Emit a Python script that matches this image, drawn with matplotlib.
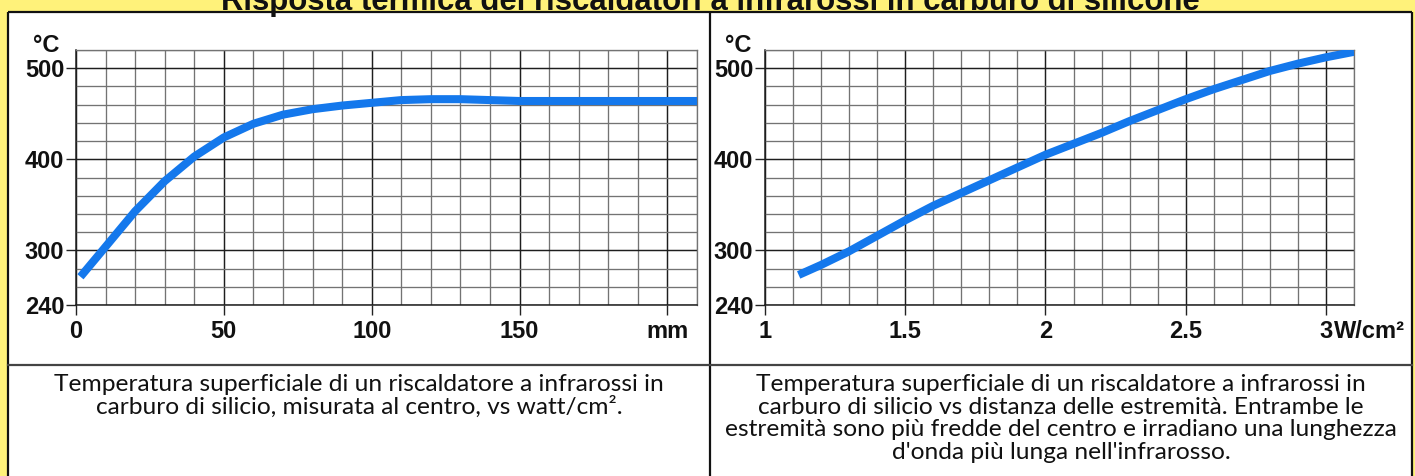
import matplotlib
matplotlib.use("Agg")
import matplotlib.pyplot as plt
from matplotlib.patches import Rectangle
from matplotlib.lines import Line2D

# ---- data -------------------------------------------------------------
title = "Risposta termica dei riscaldatori a infrarossi in carburo di silicone"

# left chart: temperature vs distance (mm)
dist_mm = [1.5, 10, 20, 30, 40, 50, 60, 70, 80, 90, 100, 110, 120, 130,
           140, 150, 160, 170, 180, 190, 200, 210]
temp_dist = [271, 304, 343, 376, 403, 424, 439, 449, 455, 459, 462, 465,
             466, 466, 465, 464, 464, 464, 464, 464, 464, 464]
dist_ticks = [0, 50, 100, 150, 200]
dist_labels = ["0", "50", "100", "150", "mm"]

# right chart: temperature vs power density (W/cm²)
power = [1.12, 1.2, 1.3, 1.4, 1.5, 1.6, 1.7, 1.8, 1.9, 2.0, 2.1, 2.2, 2.3,
         2.4, 2.5, 2.6, 2.7, 2.8, 2.9, 3.0, 3.1]
temp_power = [273, 284, 299, 316, 333, 349, 363, 377, 391, 405, 417, 429,
              442, 454, 466, 477, 487, 497, 505, 512, 518]
power_ticks = [1, 1.5, 2, 2.5, 3]
power_labels = ["1", "1.5", "2", "2.5", "3"]
power_unit = "W/cm²"

temp_ticks = [240, 300, 400, 500]
temp_unit = "°C"

caption_left = ["Temperatura superficiale di un riscaldatore a infrarossi in",
                "carburo di silicio, misurata al centro, vs watt/cm²."]
caption_right = ["Temperatura superficiale di un riscaldatore a infrarossi in",
                 "carburo di silicio vs distanza delle estremità. Entrambe le",
                 "estremità sono più fredde del centro e irradiano una lunghezza",
                 "d'onda più lunga nell'infrarosso."]

# chart text: bold Arial-style figures
label_size = 17
plt.rcParams["font.family"] = ["Liberation Sans", "DejaVu Sans"]
plt.rcParams["font.weight"] = "bold"
plt.rcParams["xtick.labelsize"] = label_size
plt.rcParams["ytick.labelsize"] = label_size
plt.rcParams["xtick.color"] = "#222222"
plt.rcParams["ytick.color"] = "#222222"
plt.rcParams["xtick.labelcolor"] = "#111111"
plt.rcParams["ytick.labelcolor"] = "#111111"

# ---- figure -----------------------------------------------------------
W, H = 1415, 476
fig = plt.figure(figsize=(W / 100, H / 100), dpi=100)
fig.patch.set_facecolor("#FFF27A")
renderer = fig.canvas.get_renderer()

# pixel-coordinate layer for the table frame and free text
bg = fig.add_axes([0, 0, 1, 1], zorder=0)
bg.set_xlim(0, W)
bg.set_ylim(H, 0)
bg.axis("off")

bg.add_patch(Rectangle((8, 12), 1404, 480, facecolor="white", edgecolor="none"))
frame_kw = dict(color="#111111", lw=1.6, solid_capstyle="butt")
bg.add_line(Line2D([8, 8], [12, H], **frame_kw))
bg.add_line(Line2D([1412, 1412], [12, H], **frame_kw))
bg.add_line(Line2D([8, 1412], [12, 12], **frame_kw))
bg.add_line(Line2D([710, 710], [12, H], **frame_kw))
bg.add_line(Line2D([8, 1412], [365, 365], color="#444444", lw=1.6))


def fit_text(x, y, s, target_w, **kw):
    t = bg.text(x, y, s, fontsize=20, **kw)
    w = t.get_window_extent(renderer).width
    t.set_fontsize(20 * target_w / w)
    return t


fit_text(710, 10, title, 976, ha="center", va="baseline",
         weight="bold", color="#111111")

cap_y0, cap_dy = 391, 22.7
cap = fit_text(359, cap_y0, caption_left[0], 611, ha="center", va="baseline",
               family="Lato", weight="normal", color="#111111")
cap_size = cap.get_fontsize()
for i, line in enumerate(caption_left[1:], start=1):
    bg.text(359, cap_y0 + cap_dy * i, line, ha="center", va="baseline",
            family="Lato", weight="normal", fontsize=cap_size, color="#111111")
for i, line in enumerate(caption_right):
    bg.text(1061, cap_y0 + cap_dy * i, line, ha="center", va="baseline",
            family="Lato", weight="normal", fontsize=cap_size, color="#111111")

bg.text(46, 45, temp_unit, ha="center", va="center", fontsize=label_size,
        color="#111111")
bg.text(738, 45, temp_unit, ha="center", va="center", fontsize=label_size,
        color="#111111")


def px_axes(l, t, r, b):
    return fig.add_axes([l / W, 1 - b / H, (r - l) / W, (b - t) / H], zorder=2)


def style_chart(ax, xlim, xmajor, xminor, xlabels):
    ax.set_facecolor("white")
    ax.set_xlim(*xlim)
    ax.set_ylim(240, 520)
    ax.set_xticks(xmajor, labels=xlabels)
    ax.set_xticks(xminor, minor=True)
    ax.set_yticks(temp_ticks, labels=[str(v) for v in temp_ticks])
    ax.set_yticks(list(range(240, 521, 20)), minor=True)
    ax.grid(which="minor", color="#737373", lw=0.95)
    ax.grid(which="major", color="#1e1e1e", lw=1.05)
    ax.set_axisbelow(True)
    ax.tick_params(which="minor", length=0)
    ax.tick_params(which="major", axis="x", length=7.5, width=1.0, pad=3.6)
    ax.tick_params(which="major", axis="y", length=7.5, width=1.0, pad=1.0)
    for side in ("left", "bottom"):
        ax.spines[side].set_color("#1e1e1e")
        ax.spines[side].set_linewidth(1.1)
    for side in ("top", "right"):
        ax.spines[side].set_color("#737373")
        ax.spines[side].set_linewidth(0.95)


blue = "#1478EC"

ax1 = px_axes(76, 50, 697, 305)
style_chart(ax1, (0, 210), dist_ticks, list(range(0, 211, 10)), dist_labels)
ax1.plot(dist_mm, temp_dist, color=blue, lw=5.8, solid_joinstyle="round",
         solid_capstyle="butt", zorder=3)

ax2 = px_axes(765, 50, 1354, 305)
style_chart(ax2, (1, 3.1), power_ticks,
            [1 + 0.1 * i for i in range(22)], power_labels)
ax2.plot(power, temp_power, color=blue, lw=5.8, solid_joinstyle="round",
         solid_capstyle="butt", zorder=3)
ax2.annotate(power_unit, xy=(3, 0), xycoords=("data", "axes fraction"),
             xytext=(8, -15.4), textcoords="offset pixels",
             ha="left", va="top", annotation_clip=False, fontsize=label_size,
             color="#111111")

fig.savefig("out.png", dpi=100, facecolor=fig.get_facecolor())
